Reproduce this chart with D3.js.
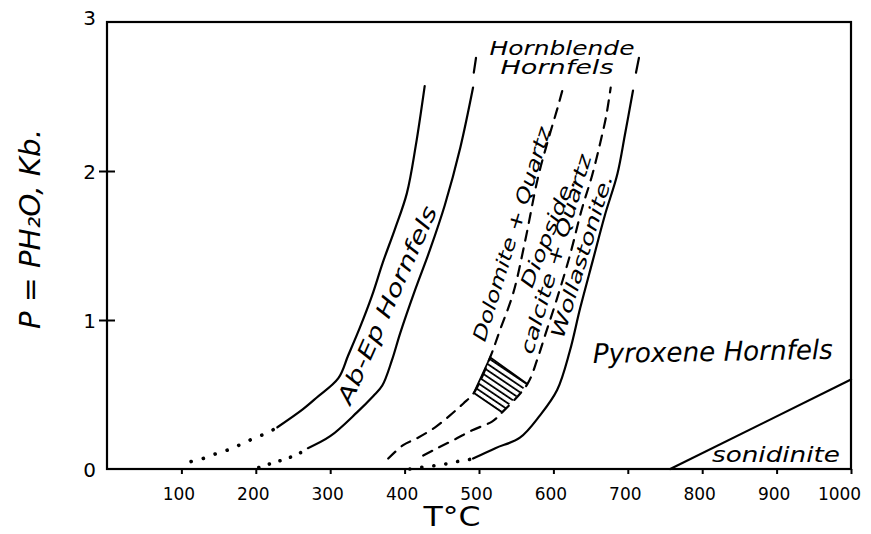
<!DOCTYPE html>
<html>
<head>
<meta charset="utf-8">
<script src="https://cdn.jsdelivr.net/npm/d3@7"></script>
<style>
  body { margin: 0; background: #fff; }
  svg { display: block; }
  .lbl { font-family: "DejaVu Sans", sans-serif; font-style: italic; fill: #000; }
</style>
</head>
<body>
<svg id="chart" width="871" height="534"></svg>
<script>
/* tick values */
const xTicks = [100, 200, 300, 400, 500, 600, 700, 800, 900, 1000];
const yTicks = [0, 1, 2, 3];

/* curve 1 - upper limit of Ab-Ep hornfels (dotted foot, then solid) */
const c1DotT = [113, 129, 145, 164, 182, 199, 215, 229];
const c1DotP = [0.05, 0.07, 0.10, 0.13, 0.17, 0.21, 0.24, 0.28];
const c1T = [229, 263, 282, 311, 324, 340, 356, 371, 387, 403, 415, 427];
const c1P = [0.28, 0.40, 0.48, 0.61, 0.76, 0.95, 1.16, 1.39, 1.61, 1.85, 2.17, 2.57];

/* curve 2 - Ab-Ep / hornblende hornfels */
const c2DotT = [204, 216, 229, 242, 257, 270];
const c2DotP = [0.01, 0.03, 0.05, 0.07, 0.10, 0.14];
const c2T = [270, 300, 336, 358, 370, 383, 394, 414, 434, 454, 475, 492];
const c2P = [0.14, 0.22, 0.38, 0.49, 0.56, 0.73, 0.91, 1.20, 1.47, 1.77, 2.16, 2.56];
const c2TopT = [493, 496];
const c2TopP = [2.66, 2.76];

/* curve 3 - dolomite + quartz = diopside (dashed) */
const c3T = [378, 398, 418, 441, 461, 479, 493, 515, 528, 546, 562, 579, 593, 606, 612];
const c3P = [0.07, 0.16, 0.21, 0.28, 0.36, 0.44, 0.51, 0.75, 0.93, 1.18, 1.53, 1.95, 2.21, 2.43, 2.54];

/* curve 4 - calcite + quartz = wollastonite (dashed) */
const c4T = [425, 444, 468, 491, 518, 531, 565, 578, 589, 604, 622, 638, 652, 663, 671, 677];
const c4P = [0.09, 0.14, 0.20, 0.26, 0.32, 0.38, 0.57, 0.73, 0.90, 1.13, 1.43, 1.74, 1.97, 2.19, 2.37, 2.56];

/* curve 5 - hornblende / pyroxene hornfels */
const c5DotT = [407, 421, 437, 452, 470, 484, 492];
const c5DotP = [0.0, 0.01, 0.02, 0.03, 0.05, 0.06, 0.07];
const c5T = [492, 522, 555, 582, 605, 622, 636, 653, 669, 686, 696, 707];
const c5P = [0.07, 0.14, 0.21, 0.36, 0.53, 0.79, 1.08, 1.40, 1.70, 1.98, 2.24, 2.54];
const c5TopT = [711, 715];
const c5TopP = [2.66, 2.76];

/* sanidinite boundary */
const sanT = [757, 1000];
const sanP = [0, 0.6];

/* hatched field, corners */
const hatchT = [515, 565, 531, 493];
const hatchP = [0.75, 0.57, 0.38, 0.51];

const svg = d3.select('#chart');
const x = d3.scaleLinear().domain([0, 1000]).range([107, 851]);
const y = d3.scaleLinear().domain([0, 3]).range([469, 22]);

function pts(ts, ps) {
  return ts.map((t, i) => [t, ps[i]]);
}

const smooth = d3.line().x((d) => x(d[0])).y((d) => y(d[1])).curve(d3.curveCatmullRom);
const straight = d3.line().x((d) => x(d[0])).y((d) => y(d[1]));

/* hatch pattern */
const defs = svg.append('defs');
const pat = defs.append('pattern')
  .attr('id', 'hatch')
  .attr('patternUnits', 'userSpaceOnUse')
  .attr('width', 10)
  .attr('height', 5.3)
  .attr('patternTransform', 'rotate(34)');
pat.append('line')
  .attr('x1', 0).attr('x2', 10)
  .attr('y1', 2.6).attr('y2', 2.6)
  .attr('stroke', '#000')
  .attr('stroke-width', 1.8);

/* frame */
svg.append('rect')
  .attr('x', x(0))
  .attr('y', y(3))
  .attr('width', x(1000) - x(0))
  .attr('height', y(0) - y(3))
  .attr('fill', 'none')
  .attr('stroke', '#000')
  .attr('stroke-width', 2.2);

/* axes */
const xAxis = svg.append('g')
  .attr('transform', `translate(0,${y(0)})`)
  .call(d3.axisBottom(x).tickValues(xTicks).tickFormat(d3.format('d')).tickSize(5).tickPadding(14));
xAxis.select('.domain').remove();
xAxis.selectAll('.tick line').attr('stroke-width', 2);
xAxis.selectAll('.tick text')
  .attr('font-family', '"DejaVu Sans", sans-serif')
  .attr('font-size', 17)
  .attr('dx', (d) => (d === 1000 ? -12 : -3));

const yAxis = svg.append('g')
  .attr('transform', `translate(${x(0)},0)`)
  .call(d3.axisLeft(y).tickValues(yTicks).tickFormat(d3.format('d')).tickSize(8).tickPadding(3));
yAxis.select('.domain').remove();
yAxis.selectAll('.tick line')
  .attr('x1', 8)
  .attr('stroke-width', 2)
  .attr('display', (d) => (d === 0 || d === 3 ? 'none' : null));
yAxis.selectAll('.tick text')
  .attr('font-family', '"DejaVu Sans", sans-serif')
  .attr('font-size', 20)
  .attr('dy', (d) => (d === 3 ? '0.1em' : '0.35em'));

/* curves */
function draw(data, gen, dash, width) {
  svg.append('path')
    .attr('d', gen(data))
    .attr('fill', 'none')
    .attr('stroke', '#000')
    .attr('stroke-width', width)
    .attr('stroke-linecap', 'round')
    .attr('stroke-dasharray', dash);
}

draw(pts(c1DotT, c1DotP), straight, '0.1,12.5', 3.6);
draw(pts(c1T, c1P), smooth, null, 2.2);
draw(pts(c2DotT, c2DotP), straight, '0.1,11', 3.6);
draw(pts(c2T, c2P), smooth, null, 2.2);
draw(pts(c2TopT, c2TopP), straight, null, 2.2);
draw(pts(c3T, c3P), smooth, '10,8', 2.2);
draw(pts(c4T, c4P), smooth, '10,8', 2.2);
draw(pts(c5DotT, c5DotP), straight, '0.1,12', 3.6);
draw(pts(c5T, c5P), smooth, null, 2.2);
draw(pts(c5TopT, c5TopP), straight, null, 2.2);
draw(pts(sanT, sanP), straight, null, 2.2);

/* hatched field */
const hatch = pts(hatchT, hatchP);
svg.append('path')
  .attr('d', straight(hatch) + 'Z')
  .attr('fill', 'url(#hatch)')
  .attr('stroke', 'none');
svg.append('path')
  .attr('d', straight([hatch[1], hatch[0], hatch[3], hatch[2]]))
  .attr('fill', 'none')
  .attr('stroke', '#000')
  .attr('stroke-width', 1.8);

/* labels */
function label(text, px, py, angle, size, len, anchor) {
  svg.append('text')
    .attr('class', 'lbl')
    .attr('transform', `translate(${px},${py}) rotate(${angle})`)
    .attr('text-anchor', anchor || 'middle')
    .attr('font-size', size)
    .attr('textLength', len)
    .attr('lengthAdjust', 'spacingAndGlyphs')
    .text(text);
}

label('Ab-Ep Hornfels', 394, 308, -66, 22, 214);
label('Dolomite + Quartz', 518, 236, -72.8, 19, 223);
label('Diopside.', 554, 235, -68, 19, 117);
label('calcite + Quartz', 562, 256, -73.4, 19, 207);
label('Wollastonite.', 588, 258, -73, 19, 170);
label('Hornblende', 562, 55, 0, 20, 145);
label('Hornfels', 557, 74, 0, 20, 113);
label('Pyroxene Hornfels', 593, 363, -1, 27, 240, 'start');
label('sonidinite', 712, 462, 0, 22, 128, 'start');

svg.append('text')
  .attr('x', 452)
  .attr('y', 526)
  .attr('text-anchor', 'middle')
  .attr('font-family', '"DejaVu Sans", sans-serif')
  .attr('font-size', 26)
  .attr('textLength', 57)
  .attr('lengthAdjust', 'spacingAndGlyphs')
  .text('T°C');

label('P = PH₂O, Kb.', 40, 229, -90, 28, 200);
</script>
</body>
</html>
